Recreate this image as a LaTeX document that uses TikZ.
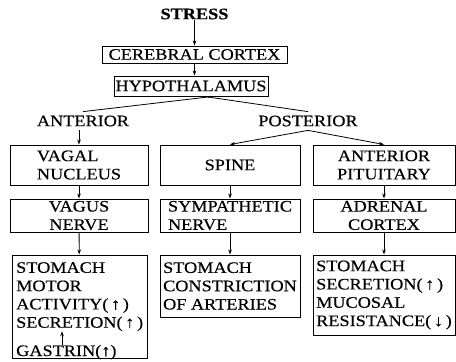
\documentclass[tikz,border=0pt]{standalone}
\usepackage{fontspec}
\setmainfont[FakeStretch=1.14, FakeBold=0.35]{Liberation Serif}
\usetikzlibrary{arrows.meta}
\begin{document}
\begin{tikzpicture}[x=1pt,y=-1pt,
  every node/.style={font=\fontsize{16}{18.3}\selectfont, inner sep=0pt},
  box/.style={draw, line width=1pt},
  lbl/.style={outer ysep=4pt},
  arr/.style={line width=0.8pt, -{Stealth[length=5pt,width=3.6pt]}},
  ln/.style={line width=0.8pt}]
\useasboundingbox (0,0) rectangle (456,362);
\node[font=\fontsize{16}{18.3}\selectfont\bfseries] (stress) at (194.5,14) {STRESS};
\node[box, minimum width=185pt, minimum height=17pt] (cc) at (194.5,54.5) {CEREBRAL CORTEX};
\node[box, minimum width=154pt, minimum height=20pt] (hyp) at (191,86) {HYPOTHALAMUS};
\coordinate (apex) at (208,97);
\node[lbl] (ant) at (83,121) {ANTERIOR};
\node[lbl] (post) at (308,121) {POSTERIOR};
\node[box, align=left, minimum width=138pt, minimum height=40pt] (vagal) at (79,165) {VAGAL\\NUCLEUS};
\node[box, align=center, minimum width=140pt, minimum height=40pt] (spine) at (230,165) {SPINE};
\node[box, align=center, minimum width=142pt, minimum height=40pt] (pit) at (384,165) {ANTERIOR\\PITUITARY};
\node[box, align=center, minimum width=138pt, minimum height=33pt] (vagus) at (79,215.5) {VAGUS\\NERVE};
\node[box, align=left, minimum width=140pt, minimum height=33pt] (symp) at (230,215.5) {SYMPATHETIC\\NERVE};
\node[box, align=center, minimum width=142pt, minimum height=33pt] (adr) at (384,215.5) {ADRENAL\\CORTEX};
\node[box, minimum width=135pt, minimum height=103pt] (lbox) at (79.5,306.5) {};
\node[anchor=north west, align=left] (ltext) at (16,262) {STOMACH\\MOTOR\\ACTIVITY(\,↑\,)\\SECRETION(\,↑\,)};
\node[anchor=base west] (gas) at (16,356) {GASTRIN(↑)};
\node[box, align=left, minimum width=140pt, minimum height=62pt] (mbox) at (230,286) {STOMACH\\CONSTRICTION\\OF ARTERIES};
\node[box, align=left, minimum width=142pt, minimum height=80pt] (rbox) at (384,295) {STOMACH\\SECRETION(\,↑\,)\\MUCOSAL\\RESISTANCE(\,↓\,)};
\coordinate (gx) at ([xshift=46pt]gas.north west);
\draw[arr] (stress) -- (cc);
\draw[arr] (cc.south) -- (cc.south |- hyp.north);
\draw[ln] (hyp.south -| apex) -- (apex);
\draw[ln] (apex) -- (ant.north);
\draw[ln] (apex) -- (post.north);
\draw[arr] (vagal.north |- ant.south) -- (vagal.north);
\draw[arr] (post.south) -- (spine.north);
\draw[arr] (post.south) -- (pit.north);
\draw[arr] (vagal) -- (vagus);
\draw[arr] (spine) -- (symp);
\draw[arr] (pit) -- (adr);
\draw[arr] (vagus) -- (lbox);
\draw[arr] (symp) -- (mbox);
\draw[arr] (adr) -- (rbox);
\draw[arr] (gx) -- (gx |- ltext.south);
\end{tikzpicture}
\end{document}
